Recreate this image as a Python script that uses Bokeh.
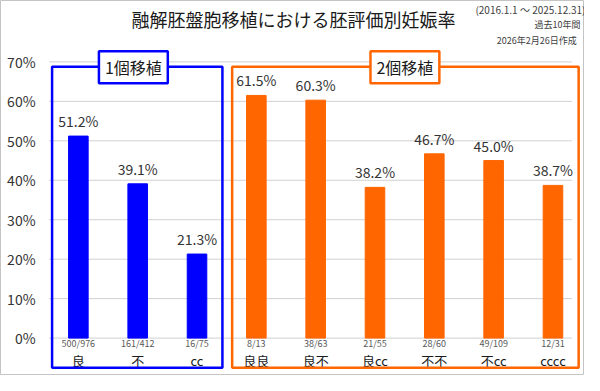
from bokeh.plotting import figure
from bokeh.models import Range1d, Label, ColumnDataSource
from bokeh.core.properties import value
from bokeh.embed import file_html
from bokeh.resources import INLINE

# ---- data ----
categories = ["良", "不", "cc", "良良", "良不", "良cc", "不不", "不cc", "cccc"]
counts = ["500/976", "161/412", "16/75", "8/13", "38/63", "21/55", "28/60", "49/109", "12/31"]
rates = [51.2, 39.1, 21.3, 61.5, 60.3, 38.2, 46.7, 45.0, 38.7]
groups = ["single", "single", "single", "double", "double", "double", "double", "double", "double"]
group_titles = ["1個移植", "2個移植"]
y_ticks = [0, 10, 20, 30, 40, 50, 60, 70]
title_text = "融解胚盤胞移植における胚評価別妊娠率"
notes = ["(2016.1.1 ～ 2025.12.31)", "過去10年間", "2026年2月26日作成"]

BLUE = "#0000FF"
ORANGE = "#FF6600"
FONT = value("Noto Sans CJK JP")
LFONT = "Noto Sans CJK JP"

W, H = 584, 375
# reference picture coordinates (600x391) -> data coordinates
def dx(xr):
    return (xr - 80) / 60.95

def dy(yr):
    return (352 - yr) / 411.4

xs = list(range(len(categories)))
vals = [r / 100 for r in rates]
colors = [BLUE if g == "single" else ORANGE for g in groups]
labels = [f"{r:.1f}%" for r in rates]
tick_vals = [t / 100 for t in y_ticks]
tick_labels = [f"{t}%" for t in y_ticks]

src = ColumnDataSource(dict(x=xs, top=vals, color=colors, label=labels,
                            cat=categories, cnt=counts))

p = figure(width=W, height=H, output_backend="svg", toolbar_location=None,
           x_range=Range1d(dx(0), dx(600)), y_range=Range1d(dy(391), dy(0)),
           min_border=0, x_axis_location=None, y_axis_location=None)
p.outline_line_color = "#c4c4c4"
p.outline_line_width = 1
p.background_fill_color = "white"
p.border_fill_color = "white"
p.xgrid.visible = False
p.ygrid.visible = False

# gridlines (from the y ticks)
p.segment(x0=dx(50), x1=dx(587), y0=tick_vals, y1=tick_vals,
          line_color="#d0d0d0", line_width=1)

# y tick labels
p.text(x=dx(36), y=tick_vals, text=tick_labels, text_align="right",
       text_baseline="middle", text_font=FONT, text_font_size="14px",
       text_color="#333333")

# bars
p.vbar(x="x", top="top", width=0.33, color="color", source=src)

# value labels
p.text(x="x", y="top", text="label", source=src, text_align="center",
       text_baseline="bottom", y_offset=-5, text_font=FONT,
       text_font_size="14px", text_color="#333333")

# x labels: counts and categories
p.text(x="x", y=dy(358), text="cnt", source=src, text_align="center",
       text_baseline="middle", text_font=FONT,
       text_font_size="9px", text_color="#595959")
p.text(x="x", y=dy(375.5), text="cat", source=src, text_align="center",
       text_baseline="middle", text_font=FONT,
       text_font_size="13px", text_color="#1a1a1a")

# group boxes
p.quad(left=[dx(53), dx(238)], right=[dx(228), dx(594)], top=[dy(69), dy(69)],
       bottom=[dy(383), dy(383)], fill_alpha=0, line_color=[BLUE, ORANGE],
       line_width=2.5)

for txt, cx, col in [(group_titles[0], 136.5, BLUE), (group_titles[1], 415.5, ORANGE)]:
    p.add_layout(Label(x=dx(cx), y=dy(69.5), text=txt, text_align="center",
                       text_baseline="middle", text_font=LFONT, text_font_size="16px",
                       text_color="#1a1a1a", background_fill_color="white",
                       border_line_color=col, border_line_width=2.5, padding=(6, 4)))

# title and notes
p.add_layout(Label(x=dx(301), y=dy(19), text=title_text, text_align="center",
                   text_baseline="middle", text_font=LFONT, text_font_size="18px",
                   text_color="#1a1a1a"))
for txt, xr, yr, fs in [(notes[0], 601, 9, "10px"), (notes[1], 596, 25, "9px"),
                        (notes[2], 592, 42, "9px")]:
    p.add_layout(Label(x=dx(xr), y=dy(yr), text=txt, text_align="right",
                       text_baseline="middle", text_font=LFONT, text_font_size=fs,
                       text_color="#404040"))

open("out.html", "w").write(file_html(p, INLINE))
